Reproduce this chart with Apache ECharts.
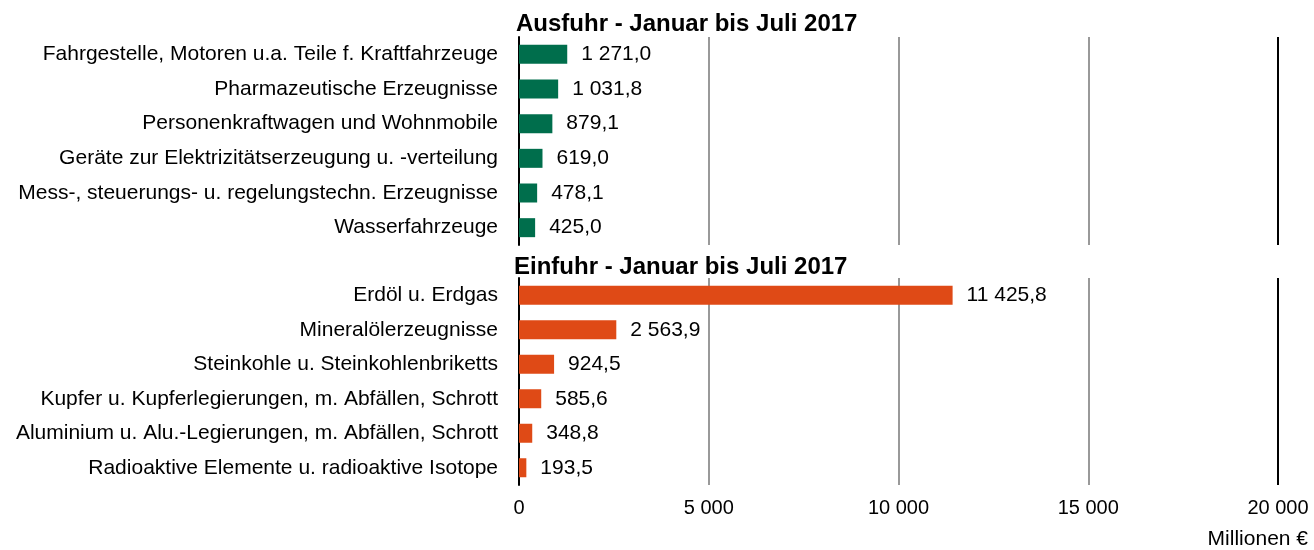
<!DOCTYPE html>
<html><head><meta charset="utf-8">
<script src="https://cdn.jsdelivr.net/npm/echarts@6/dist/echarts.min.js"></script>
<style>html,body{margin:0;padding:0;background:#fff}#c{width:1314px;height:550px}</style>
</head><body><div id="c"></div>
<script>
const exportTitle = 'Ausfuhr - Januar bis Juli 2017';
const importTitle = 'Einfuhr - Januar bis Juli 2017';
const exportCategories = ['Fahrgestelle, Motoren u.a. Teile f. Kraftfahrzeuge','Pharmazeutische Erzeugnisse','Personenkraftwagen und Wohnmobile','Geräte zur Elektrizitätserzeugung u. -verteilung','Mess-, steuerungs- u. regelungstechn. Erzeugnisse','Wasserfahrzeuge'];
const exportValues = [1271.0, 1031.8, 879.1, 619.0, 478.1, 425.0];
const importCategories = ['Erdöl u. Erdgas','Mineralölerzeugnisse','Steinkohle u. Steinkohlenbriketts','Kupfer u. Kupferlegierungen, m. Abfällen, Schrott','Aluminium u. Alu.-Legierungen, m. Abfällen, Schrott','Radioaktive Elemente u. radioaktive Isotope'];
const importValues = [11425.8, 2563.9, 924.5, 585.6, 348.8, 193.5];
const xTicks = [0, 5000, 10000, 15000, 20000];
const unitLabel = 'Millionen €';

const FONT = '"Liberation Sans", Arial, sans-serif';
function fmt(v, dec) {
  const s = v.toFixed(dec);
  const [i, d] = s.split('.');
  const ii = i.replace(/\B(?=(\d{3})+(?!\d))/g, ' ');
  return d ? ii + ',' + d : ii;
}
const chart = echarts.init(document.getElementById('c'), null, {renderer: 'canvas'});
const xAxisBase = (gi, showLabels) => ({
  type: 'value', gridIndex: gi, min: xTicks[0], max: xTicks[xTicks.length - 1], interval: 5000,
  axisLine: {show: false}, axisTick: {show: false},
  axisLabel: {show: showLabels, color: '#000', fontSize: 20, fontFamily: FONT, margin: 13,
    formatter: v => fmt(v, 0)},
  splitLine: {show: true, lineStyle: {color: ['#000', '#999', '#999', '#999', '#000'], width: 2}}
});
const yAxisBase = (gi, cats) => ({
  type: 'category', gridIndex: gi, data: cats, inverse: true,
  axisLine: {show: true, lineStyle: {color: '#000', width: 2}},
  axisTick: {show: false},
  axisLabel: {color: '#000', fontSize: 21, fontFamily: FONT, margin: 21}
});
const labelCfg = {show: true, position: 'right', distance: 14, color: '#000', fontSize: 21, fontFamily: FONT,
  formatter: p => fmt(p.value, 1)};
chart.setOption({
  animation: false,
  title: [
    {text: exportTitle, left: 516, top: 12, textStyle: {fontSize: 24, fontWeight: 'bold', color: '#000', fontFamily: FONT}, padding: 0},
    {text: importTitle, left: 514, top: 255, textStyle: {fontSize: 24, fontWeight: 'bold', color: '#000', fontFamily: FONT}, padding: 0},
    {text: unitLabel, right: 6, top: 529, textStyle: {fontSize: 21, fontWeight: 'normal', color: '#000', fontFamily: FONT}, padding: 0}
  ],
  grid: [
    {left: 519, right: 36, top: 37, height: 208, containLabel: false},
    {left: 519, right: 36, top: 278, height: 207, containLabel: false}
  ],
  xAxis: [xAxisBase(0, false), xAxisBase(1, true)],
  yAxis: [yAxisBase(0, exportCategories), yAxisBase(1, importCategories)],
  series: [
    {type: 'bar', xAxisIndex: 0, yAxisIndex: 0, data: exportValues, barWidth: 19,
      itemStyle: {color: '#006e4c'}, label: labelCfg},
    {type: 'bar', xAxisIndex: 1, yAxisIndex: 1, data: importValues, barWidth: 19,
      itemStyle: {color: '#df4a16'}, label: labelCfg}
  ]
});
</script></body></html>
